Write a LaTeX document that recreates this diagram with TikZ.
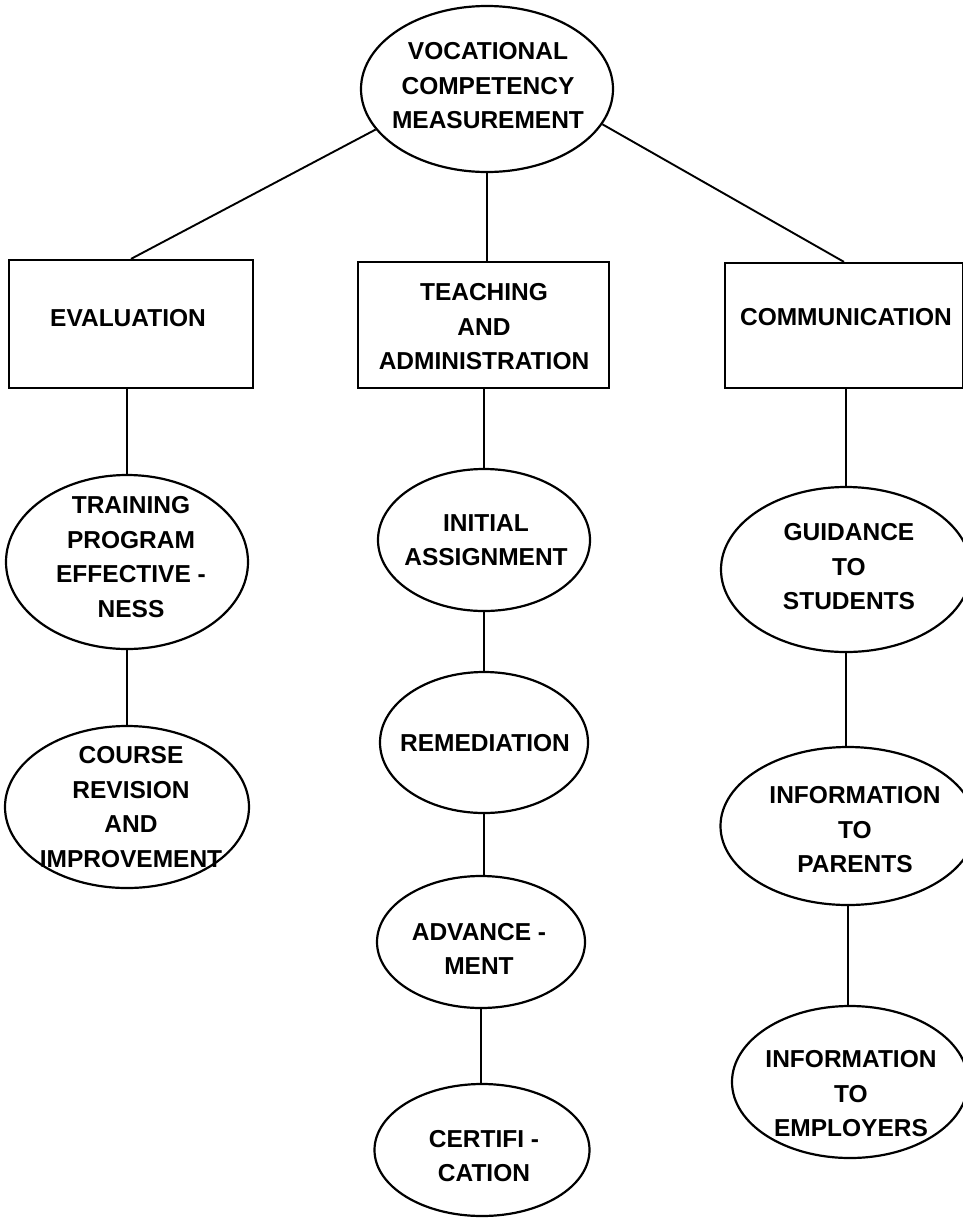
\documentclass[tikz,border=0pt]{standalone}
\usepackage{fontspec}
\setmainfont{Liberation Sans}
\usetikzlibrary{shapes.geometric}
\begin{document}
\begin{tikzpicture}[x=1pt,y=-1pt,
  oval/.style={draw, ellipse, line width=2.2pt, inner sep=0pt},
  box/.style={draw, rectangle, line width=2.2pt, inner sep=0pt},
  txt/.style={font=\fontsize{24.5}{34.5}\selectfont\bfseries, align=center, inner sep=0pt},
  link/.style={line width=1.9pt}]
\useasboundingbox (0,0) rectangle (963,1219);
% top
\node[oval, minimum width=252pt, minimum height=166pt] (top) at (487,89) {};
\node[txt] (topt) at (488,86) {VOCATIONAL\\COMPETENCY\\MEASUREMENT};
% boxes
\node[box, minimum width=244pt, minimum height=128pt] (eval) at (131,324) {};
\node[txt] (evalt) at (128,318) {EVALUATION};
\node[box, minimum width=251pt, minimum height=126pt] (teach) at (483.5,325) {};
\node[txt] (teacht) at (484,327) {TEACHING\\AND\\ADMINISTRATION};
\node[box, minimum width=238pt, minimum height=125pt] (comm) at (844,325.5) {};
\node[txt] (commt) at (846,317) {COMMUNICATION};
% left column
\node[oval, minimum width=242pt, minimum height=174pt] (train) at (127,562) {};
\node[txt] (traint) at (131,557) {TRAINING\\PROGRAM\\EFFECTIVE -\\NESS};
\node[oval, minimum width=244pt, minimum height=162pt] (course) at (127,807) {};
\node[txt] (courset) at (131,807) {COURSE\\REVISION\\AND\\IMPROVEMENT};
% middle column
\node[oval, minimum width=212pt, minimum height=142pt] (init) at (484,540) {};
\node[txt] (initt) at (486,540) {INITIAL\\ASSIGNMENT};
\node[oval, minimum width=208pt, minimum height=141pt] (remed) at (484,742.5) {};
\node[txt] (remedt) at (485,743) {REMEDIATION};
\node[oval, minimum width=208pt, minimum height=132pt] (adv) at (481,942) {};
\node[txt] (advt) at (479,949) {ADVANCE -\\MENT};
\node[oval, minimum width=215pt, minimum height=132pt] (cert) at (482,1150) {};
\node[txt] (certt) at (484,1156) {CERTIFI -\\CATION};
% right column
\node[oval, minimum width=250pt, minimum height=165pt] (guide) at (846,569.5) {};
\node[txt] (guidet) at (849,567) {GUIDANCE\\TO\\STUDENTS};
\node[oval, minimum width=255pt, minimum height=158pt] (par) at (848,826) {};
\node[txt] (part) at (855,830) {INFORMATION\\TO\\PARENTS};
\node[oval, minimum width=236pt, minimum height=152pt] (emp) at (850,1082) {};
\node[txt] (empt) at (851,1094) {INFORMATION\\TO\\EMPLOYERS};
% connectors
\draw[link] (top.200) -- (eval.north);
\draw[link] (top.south) -- (top.south |- teach.north);
\draw[link] (top.-17) -- (comm.north);
\draw[link] (train.north) -- (train.north |- eval.south);
\draw[link] (train.south) -- (course.north);
\draw[link] (init.north) -- (init.north |- teach.south);
\draw[link] (init.south) -- (remed.north);
\draw[link] (remed.south) -- (remed.south |- adv.north);
\draw[link] (adv.south) -- (adv.south |- cert.north);
\draw[link] (guide.north) -- (guide.north |- comm.south);
\draw[link] (guide.south) -- (guide.south |- par.north);
\draw[link] (par.south) -- (par.south |- emp.north);
\end{tikzpicture}
\end{document}
